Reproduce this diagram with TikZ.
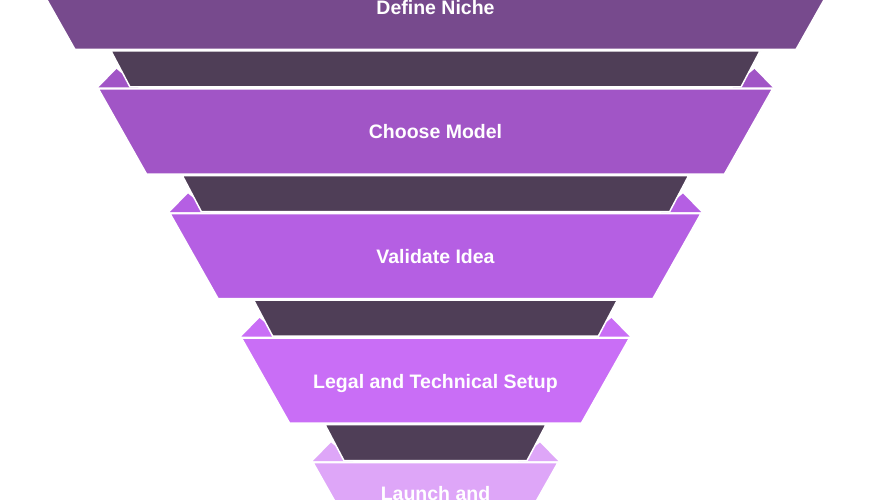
\documentclass[tikz,border=0pt]{standalone}
\usepackage{fontspec}
\setmainfont{Liberation Sans}
\definecolor{c0}{HTML}{774A8D}
\definecolor{c1}{HTML}{A155C6}
\definecolor{c2}{HTML}{B55FE3}
\definecolor{c3}{HTML}{C96EF6}
\definecolor{c4}{HTML}{DEA6F8}
\definecolor{darkband}{HTML}{4F3E57}
\tikzset{
  bandshape/.style={draw=white, line width=1.5pt, line join=miter},
  label/.style={text=white, font=\bfseries\fontsize{19.5}{22}\selectfont, anchor=base, inner sep=0pt},
}
\begin{document}
\begin{tikzpicture}[x=1pt,y=-1pt]
\useasboundingbox (0,0) rectangle (870,500);
\clip (0,0) rectangle (870,500);
\fill[white] (0,0) rectangle (870,500);
\def\cx{435.5}
% band 0
\filldraw[bandshape, fill=c0] (\cx-408.5,-35.5) -- (\cx+408.5,-35.5) -- (\cx+360.5,49.5) -- (\cx-360.5,49.5) -- cycle;
\foreach \k in {1,2,3,4} {
  \pgfmathsetmacro\ty{-35.5+124.5*\k}
  \pgfmathsetmacro\hw{408.5-71.5*\k}
  \pgfmathsetmacro\dty{\ty-38}
  \pgfmathsetmacro\dby{\ty-2}
  \pgfmathsetmacro\dhw{324.5-71.3*(\k-1)}
  \pgfmathtruncatemacro\kk{\k}
  % flaps
  \fill[fill=c\kk] (\cx-\hw,\ty-1.5) -- (\cx-\hw+18,\ty-20) -- (\cx-\hw+40,\ty-1.5) -- cycle;
  \fill[fill=c\kk] (\cx+\hw,\ty-1.5) -- (\cx+\hw-18,\ty-20) -- (\cx+\hw-40,\ty-1.5) -- cycle;
  % dark band
  \filldraw[bandshape, fill=darkband] (\cx-\dhw,\dty) -- (\cx+\dhw,\dty) -- (\cx+\dhw-19,\dby) -- (\cx-\dhw+19,\dby) -- cycle;
  % band
  \filldraw[bandshape, fill=c\kk] (\cx-\hw,\ty) -- (\cx+\hw,\ty) -- (\cx+\hw-48,\ty+85) -- (\cx-\hw+48,\ty+85) -- cycle;
}
\node[label] (t1) at (\cx,14.5) {Define Niche};
\node[label] (t2) at (\cx,138.5) {Choose Model};
\node[label] (t3) at (\cx,263) {Validate Idea};
\node[label] (t4) at (\cx,388) {Legal and Technical Setup};
\node[label] (t5) at (\cx,500.5) {Launch and};
\end{tikzpicture}
\end{document}
